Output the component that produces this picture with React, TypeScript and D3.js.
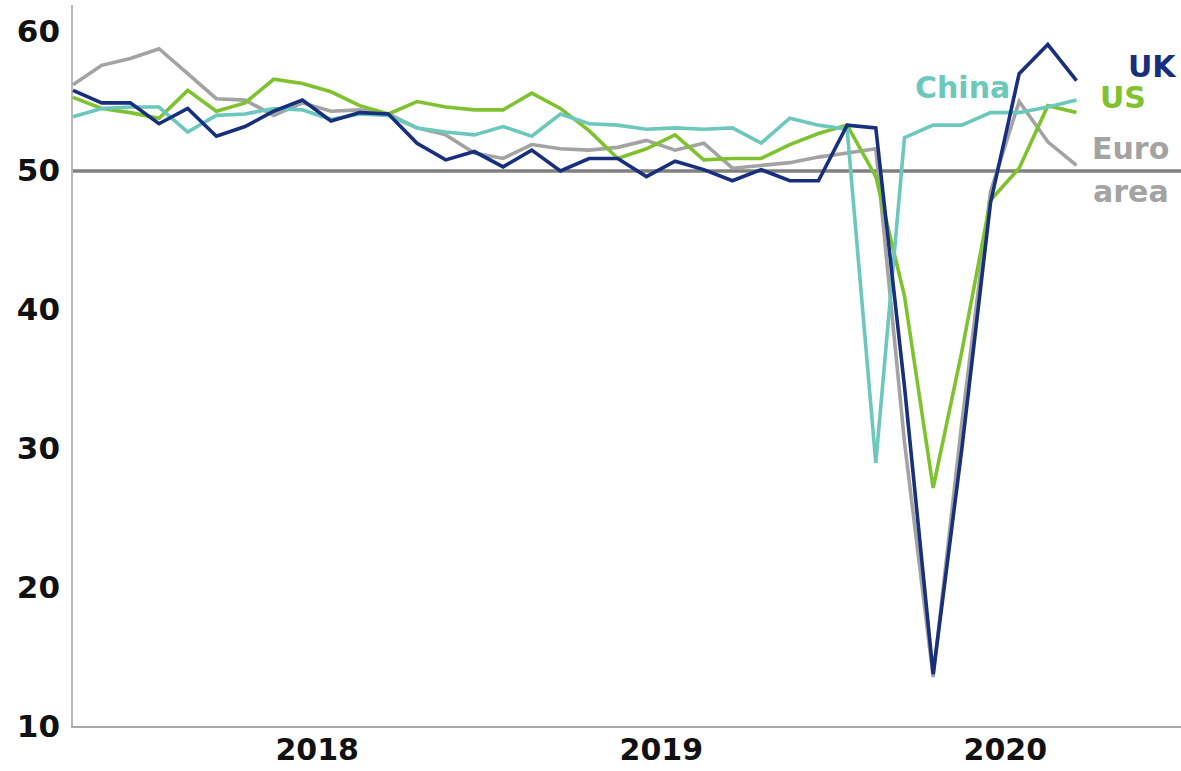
import React, { useEffect, useRef } from 'react';
import * as d3 from 'd3';

// monthly composite PMI, Oct 2017 .. Sep 2020
const months = d3.range(36);

const uk = [
  55.8, 54.9, 54.9, 53.4, 54.5, 52.5, 53.2, 54.3, 55.1, 53.6, 54.2, 54.1,
  52.0, 50.8, 51.4, 50.3, 51.5, 50.0, 50.9, 50.9, 49.6, 50.7, 50.1, 49.3,
  50.1, 49.3, 49.3, 53.3, 53.1, 34.5, 13.8, 30.0, 47.7, 57.0, 59.1, 56.5
];
const us = [
  55.3, 54.5, 54.2, 53.8, 55.8, 54.3, 54.9, 56.6, 56.3, 55.7, 54.7, 54.1,
  55.0, 54.6, 54.4, 54.4, 55.6, 54.5, 52.9, 50.9, 51.6, 52.6, 50.8, 50.9,
  50.9, 51.9, 52.7, 53.3, 49.6, 41.0, 27.2, 37.0, 47.9, 50.2, 54.7, 54.2
];
const china = [
  53.9, 54.5, 54.6, 54.6, 52.8, 54.0, 54.1, 54.5, 54.4, 53.7, 54.1, 54.0,
  53.1, 52.8, 52.6, 53.2, 52.5, 54.1, 53.4, 53.3, 53.0, 53.1, 53.0, 53.1,
  52.0, 53.8, 53.3, 53.0, 29.0, 52.4, 53.3, 53.3, 54.2, 54.2, 54.6, 55.1
];
const euro = [
  56.2, 57.6, 58.1, 58.8, 57.0, 55.2, 55.1, 54.0, 54.9, 54.3, 54.4, 54.1,
  53.1, 52.6, 51.3, 50.9, 51.9, 51.6, 51.5, 51.7, 52.2, 51.5, 52.0, 50.2,
  50.4, 50.6, 51.0, 51.3, 51.6, 30.5, 13.6, 31.9, 48.5, 55.0, 52.1, 50.4
];

const years = ['2018', '2019', '2020'];
const yearMid = [8.5, 20.5, 32.5]; // month index of mid-year
const yTicks = [10, 20, 30, 40, 50, 60];

const series = [
  { name: 'Euro area', values: euro, color: '#a3a3a3' },
  { name: 'US', values: us, color: '#7fc22f' },
  { name: 'China', values: china, color: '#6cc7bc' },
  { name: 'UK', values: uk, color: '#172f7c' }
];

const labels = [
  { text: 'UK', x: 1128, y: 77, color: '#172f7c' },
  { text: 'China', x: 915, y: 98, color: '#6cc7bc' },
  { text: 'US', x: 1100, y: 108, color: '#7fc22f' },
  { text: 'Euro', x: 1092, y: 159, color: '#a3a3a3' },
  { text: 'area', x: 1093, y: 202, color: '#a3a3a3' }
];

const App = () => {
  const container = useRef(null);

  useEffect(() => {
    const width = 1181;
    const height = 771;
    const left = 73;
    const right = 1181;
    const top = 5;
    const bottom = 727;

    const xScale = d3.scaleLinear().domain([0, 35]).range([left, 1076.5]);
    const yScale = d3.scaleLinear().domain([10, 60]).range([bottom, 32]);

    const svg = d3
      .select(container.current)
      .selectAll('svg')
      .data([0])
      .join('svg')
      .attr('width', width)
      .attr('height', height)
      .style('position', 'absolute')
      .style('left', 0)
      .style('top', 0)
      .style('font-family', '"DejaVu Sans", Verdana, sans-serif');

    svg.selectAll('*').remove();

    // axes lines
    svg
      .append('line')
      .attr('x1', left - 1)
      .attr('x2', left - 1)
      .attr('y1', top)
      .attr('y2', bottom)
      .attr('stroke', '#b8b8b8')
      .attr('stroke-width', 2);
    svg
      .append('line')
      .attr('x1', left - 2)
      .attr('x2', right)
      .attr('y1', bottom)
      .attr('y2', bottom)
      .attr('stroke', '#a8a8a8')
      .attr('stroke-width', 2);

    const yAxis = d3.axisLeft(yScale).tickValues(yTicks).tickSize(0).tickPadding(13);
    const yg = svg
      .append('g')
      .attr('transform', `translate(${left}, 0)`)
      .call(yAxis);
    yg.select('.domain').remove();
    yg.selectAll('text')
      .attr('font-size', 31)
      .attr('font-weight', 'bold')
      .attr('fill', '#111')
      .attr('font-family', '"DejaVu Sans", Verdana, sans-serif');

    const xAxis = d3
      .axisBottom(xScale)
      .tickValues(yearMid)
      .tickFormat((d, i) => years[i])
      .tickSize(0)
      .tickPadding(12);
    const xg = svg
      .append('g')
      .attr('transform', `translate(0, ${bottom})`)
      .call(xAxis);
    xg.select('.domain').remove();
    xg.selectAll('text')
      .attr('font-size', 30)
      .attr('font-weight', 'bold')
      .attr('fill', '#111')
      .attr('font-family', '"DejaVu Sans", Verdana, sans-serif');

    // 50 threshold
    svg
      .append('line')
      .attr('x1', left)
      .attr('x2', right)
      .attr('y1', yScale(50))
      .attr('y2', yScale(50))
      .attr('stroke', '#808080')
      .attr('stroke-width', 3.5);

    const line = d3
      .line()
      .x(d => xScale(d[0]))
      .y(d => yScale(d[1]));

    svg
      .selectAll('.series')
      .data(series)
      .join('path')
      .attr('class', 'series')
      .attr('d', s => line(months.map(i => [i, s.values[i]])))
      .attr('fill', 'none')
      .attr('stroke', s => s.color)
      .attr('stroke-width', 3.6)
      .attr('stroke-linejoin', 'miter');

    svg
      .selectAll('.lbl')
      .data(labels)
      .join('text')
      .attr('class', 'lbl')
      .attr('x', d => d.x)
      .attr('y', d => d.y)
      .attr('fill', d => d.color)
      .attr('font-size', 30)
      .attr('font-weight', 'bold')
      .text(d => d.text);
  }, []);

  return <div ref={container}></div>;
};

export default App;
